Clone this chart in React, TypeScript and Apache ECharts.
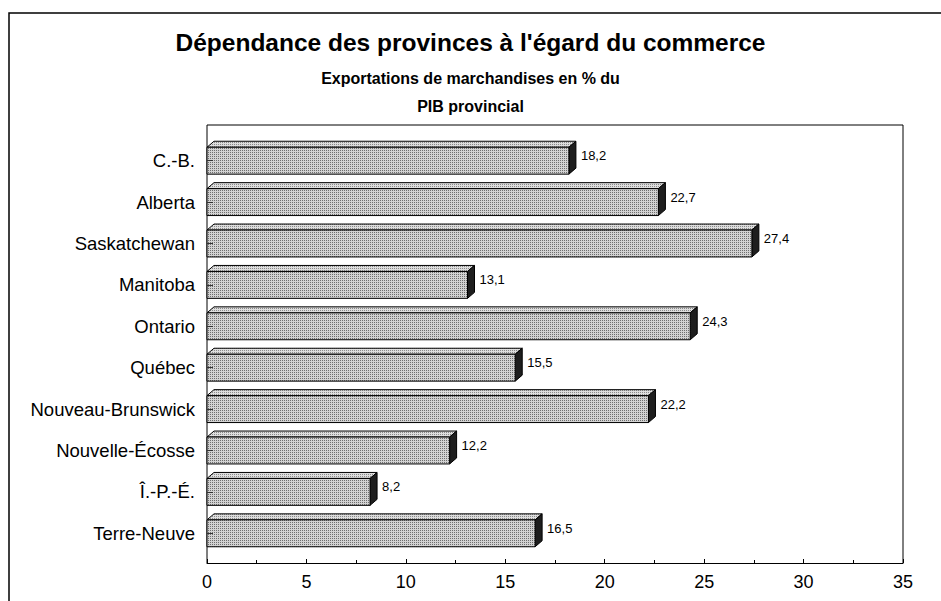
import React, { useEffect, useRef } from "react";
import * as echarts from "echarts";

const categories = [
  "C.-B.",
  "Alberta",
  "Saskatchewan",
  "Manitoba",
  "Ontario",
  "Québec",
  "Nouveau-Brunswick",
  "Nouvelle-Écosse",
  "Î.-P.-É.",
  "Terre-Neuve",
];
const values = [18.2, 22.7, 27.4, 13.1, 24.3, 15.5, 22.2, 12.2, 8.2, 16.5];
const titleText = "Dépendance des provinces à l'égard du commerce";
const subtitleLines = ["Exportations de marchandises en % du", "PIB provincial"];
const xMin = 0;
const xMax = 35;
const xInterval = 5;

const FONT = "'Liberation Sans', Arial, Helvetica, sans-serif";

function makePattern(dark: string, light: string) {
  const c = document.createElement("canvas");
  c.width = 2;
  c.height = 2;
  const ctx = c.getContext("2d")!;
  ctx.fillStyle = light;
  ctx.fillRect(0, 0, 2, 2);
  ctx.fillStyle = dark;
  ctx.fillRect(0, 0, 1, 1);
  return c;
}

export default function App() {
  const ref = useRef<HTMLDivElement>(null);
  useEffect(() => {
    if (!ref.current) return;
    const chart = echarts.init(ref.current, undefined, { renderer: "svg" });
    const frontPat = makePattern("#6e6e6e", "#d2d2d2");
    const topPat = makePattern("#8a8a8a", "#dedede");
    const dx = 7;
    const dy = 6;
    const option: any = {
      animation: false,
      backgroundColor: "#ffffff",
      title: [
        {
          text: titleText,
          left: "center",
          top: 23,
          textStyle: {
            fontFamily: FONT,
            fontSize: 24.5,
            fontWeight: "bold",
            color: "#000",
            lineHeight: 28,
          },
        },
        ...subtitleLines.map((line, i) => ({
          text: line,
          left: "center",
          top: 59 + i * 28,
          textStyle: {
            fontFamily: FONT,
            fontSize: 16,
            fontWeight: "bold",
            color: "#000",
            lineHeight: 28,
          },
        })),
      ],
      grid: { left: 207, right: 38, top: 140, bottom: 47, containLabel: false },
      xAxis: {
        type: "value",
        min: xMin,
        max: xMax,
        interval: xInterval,
        offset: 9,
        axisLine: { show: true, lineStyle: { color: "#000", width: 1 } },
        axisTick: { show: true, inside: true, length: 4, lineStyle: { color: "#000" } },
        minorTick: { show: true, splitNumber: 2, length: 3, lineStyle: { color: "#000" } },
        splitLine: { show: false },
        axisLabel: { color: "#000", fontFamily: FONT, fontSize: 18, fontWeight: "normal", margin: 10 },
      },
      yAxis: {
        type: "category",
        data: categories,
        inverse: true,
        z: 5,
        axisLine: { show: false },
        axisTick: { show: true, inside: true, alignWithLabel: true, length: 6, lineStyle: { color: "#333" } },
        axisLabel: { color: "#000", fontFamily: FONT, fontSize: 18.5, fontWeight: "normal", margin: 12 },
        splitLine: { show: false },
      },
      graphic: [
        {
          type: "polyline",
          shape: { points: [[9, 601], [9, 13], [941, 13]] },
          style: { stroke: "#000", lineWidth: 1.5, fill: null },
          z: 0,
        },
        {
          type: "polyline",
          shape: { points: [[207, 563], [207, 125], [903, 125], [903, 563]] },
          style: { stroke: "#000", lineWidth: 1, fill: null },
          z: 0,
        },
      ],
      series: [
        {
          type: "custom",
          encode: { x: 0, y: 1 },
          data: values.map((v, i) => [v, i]),
          z: 3,
          renderItem: (params: any, api: any) => {
            const v = api.value(0);
            const idx = api.value(1);
            const end = api.coord([v, idx]);
            const start = api.coord([0, idx]);
            const band = api.size([0, 1])[1];
            const h = band * 0.65;
            const yTop = end[1] - h / 2;
            const yBot = end[1] + h / 2;
            const x0 = start[0];
            const x1 = end[0];
            const label = v.toFixed(1).replace(".", ",");
            return {
              type: "group",
              children: [
                {
                  type: "polygon",
                  shape: {
                    points: [
                      [x0, yTop],
                      [x1, yTop],
                      [x1 + dx, yTop - dy],
                      [x0 + dx, yTop - dy],
                    ],
                  },
                  style: { fill: { image: topPat, repeat: "repeat" }, stroke: "#000", lineWidth: 1 },
                },
                {
                  type: "polygon",
                  shape: {
                    points: [
                      [x1, yTop],
                      [x1, yBot],
                      [x1 + dx, yBot - dy],
                      [x1 + dx, yTop - dy],
                    ],
                  },
                  style: { fill: "#1e1e1e", stroke: "#000", lineWidth: 1 },
                },
                {
                  type: "rect",
                  shape: { x: x0, y: yTop, width: x1 - x0, height: h },
                  style: { fill: { image: frontPat, repeat: "repeat" }, stroke: "#000", lineWidth: 1 },
                },
                {
                  type: "text",
                  style: {
                    text: label,
                    x: x1 + dx + 5,
                    y: end[1] - 5,
                    fill: "#000",
                    font: `13px ${FONT}`,
                    verticalAlign: "middle",
                    align: "left",
                  },
                },
              ],
            };
          },
        },
      ],
    };
    chart.setOption(option);
    return () => chart.dispose();
  }, []);
  return (
    <div
      ref={ref}
      style={{ position: "fixed", left: 0, top: 0, width: 941, height: 601, background: "#fff" }}
    />
  );
}
